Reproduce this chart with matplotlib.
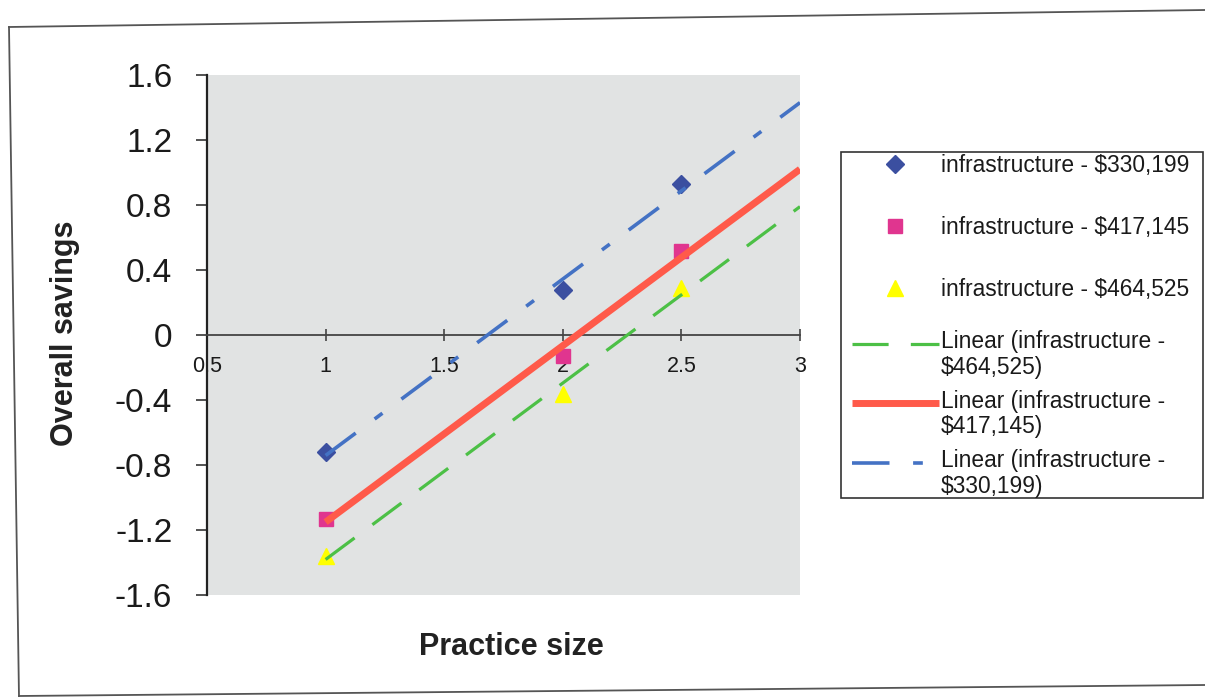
import numpy as np
import matplotlib
matplotlib.use("Agg")
import matplotlib.pyplot as plt
from matplotlib.patches import Rectangle
from matplotlib.lines import Line2D
from matplotlib.legend_handler import HandlerLine2D

plt.rcParams['font.family'] = ['Liberation Sans', 'DejaVu Sans']
plt.rcParams['lines.scale_dashes'] = False

# ---- data ----
practice_size = [1, 2, 2.5]
savings_330199 = [-0.72, 0.28, 0.93]
savings_417145 = [-1.13, -0.13, 0.52]
savings_464525 = [-1.36, -0.36, 0.29]
series_names = ["infrastructure - \\$330,199",
                "infrastructure - \\$417,145",
                "infrastructure - \\$464,525"]
trend_names = ["Linear (infrastructure -\n\\$464,525)",
               "Linear (infrastructure -\n\\$417,145)",
               "Linear (infrastructure -\n\\$330,199)"]
trend_x_range = [1, 3]
x_ticks = [0.5, 1, 1.5, 2, 2.5, 3]
x_tick_labels = ["0.5", "1", "1.5", "2", "2.5", "3"]
y_ticks = [-1.6, -1.2, -0.8, -0.4, 0, 0.4, 0.8, 1.2, 1.6]
y_tick_labels = ["-1.6", "-1.2", "-0.8", "-0.4", "0", "0.4", "0.8", "1.2", "1.6"]

W, H = 1205, 697
fig = plt.figure(figsize=(W / 100, H / 100), dpi=100)
fig.patch.set_facecolor('white')

ax = fig.add_axes([207 / W, (H - 595) / H, 593 / W, 520 / H])
ax.set_facecolor('#e1e3e3')
ax.set_xlim(0.5, 3)
ax.set_ylim(-1.6, 1.6)

# scatter points
p1, = ax.plot(practice_size, savings_330199, linestyle='none', marker='D',
              markersize=9, color='#3b4fa0', zorder=3, clip_on=False)
p2, = ax.plot(practice_size, savings_417145, linestyle='none', marker='s',
              markersize=10, color='#e0358f', zorder=3, clip_on=False)
p3, = ax.plot(practice_size, savings_464525, linestyle='none', marker='^',
              markersize=11, color='#ffff00', zorder=3, clip_on=False)

# linear trend lines
xt = np.array(trend_x_range, dtype=float)
def trend(y):
    k, b = np.polyfit(practice_size, y, 1)
    return k * xt + b

l_green, = ax.plot(xt, trend(savings_464525), color='#4cc046', lw=2.3,
                   dashes=(26, 16), dash_capstyle='butt', zorder=4)
l_red, = ax.plot(xt, trend(savings_417145), color='#ff5a4a', lw=5,
                 solid_capstyle='butt', zorder=4)
l_blue, = ax.plot(xt, trend(savings_330199), color='#4472c4', lw=2.6,
                  dashes=(27, 17, 7, 17), dash_capstyle='butt', zorder=4)

# axes styling
for s in ['top', 'right']:
    ax.spines[s].set_visible(False)
ax.spines['left'].set_color('#222222')
ax.spines['left'].set_linewidth(1.6)
ax.spines['bottom'].set_position(('data', 0))
ax.spines['bottom'].set_color('#444444')
ax.spines['bottom'].set_linewidth(1.3)

ax.set_yticks(y_ticks)
ax.set_yticklabels(y_tick_labels)
ax.set_xticks(x_ticks)
ax.set_xticklabels(x_tick_labels)
ax.tick_params(axis='y', direction='out', length=8, width=1.3, color='#444444',
               labelsize=24, pad=17, labelcolor='#1a1a1a')
ax.tick_params(axis='x', direction='inout', length=8, width=1.2, color='#444444',
               labelsize=15.5, pad=11, labelcolor='#1a1a1a')

# axis titles
fig.text(511 / W, 1 - 647 / H, "Practice size", ha='center', va='center',
         fontsize=22, fontweight='bold', color='#222222')
fig.text(65 / W, 1 - 333 / H, "Overall savings", ha='center', va='center',
         rotation=90, fontsize=22, fontweight='bold', color='#222222')

# legend frame
fig.patches.append(Rectangle((841 / W, 1 - 498 / H), 362 / W, 346 / H,
                             transform=fig.transFigure, facecolor='white',
                             edgecolor='#333333', lw=1.2, zorder=1))


class HandlerFirstLine(HandlerLine2D):
    """Align the legend line with the first line of a two-line label."""
    def __init__(self, shift, **kw):
        super().__init__(**kw)
        self.shift = shift

    def create_artists(self, *args, **kwargs):
        arts = super().create_artists(*args, **kwargs)
        for a in arts:
            a.set_ydata(np.asarray(a.get_ydata(), dtype=float) + self.shift)
        return arts


LEG_FS = 16.4
leg1 = fig.legend(handles=[p1, p2, p3], labels=series_names, loc='upper left',
                  bbox_to_anchor=(852 / W, 1 - 154 / H), frameon=False,
                  fontsize=LEG_FS, handlelength=3.8, handletextpad=0.1,
                  labelspacing=1.72, borderpad=0, borderaxespad=0, numpoints=1)
hmap = {h: HandlerFirstLine(8.4) for h in (l_green, l_red, l_blue)}
leg2 = fig.legend(handles=[l_green, l_red, l_blue], labels=trend_names,
                  loc='upper left', bbox_to_anchor=(852 / W, 1 - 330 / H),
                  frameon=False, fontsize=LEG_FS, handlelength=3.8,
                  handletextpad=0.1, labelspacing=0.48, borderpad=0,
                  borderaxespad=0, handler_map=hmap)
for leg in (leg1, leg2):
    for t in leg.get_texts():
        t.set_color('#1a1a1a')
for t in leg2.get_texts():
    t.set_linespacing(1.15)

# outer chart frame (slightly rotated scan)
def px_line(x0, y0, x1, y1):
    fig.add_artist(Line2D([x0 / W, x1 / W], [1 - y0 / H, 1 - y1 / H],
                          transform=fig.transFigure, color='#555555', lw=1.3))
px_line(9, 27, 1205, 10)
px_line(9, 27, 19, 697)
px_line(19, 696, 1205, 685)

fig.savefig("out.png", dpi=100)
